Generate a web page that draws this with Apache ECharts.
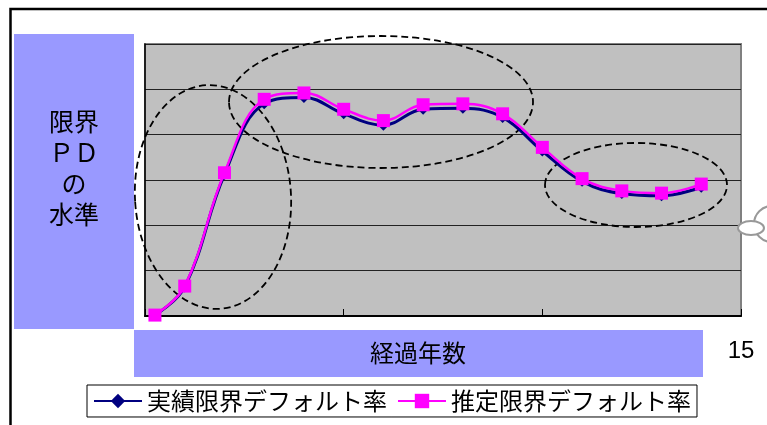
<!DOCTYPE html>
<html>
<head>
<meta charset="utf-8">
<script src="https://cdn.jsdelivr.net/npm/echarts@6/dist/echarts.min.js"></script>
<style>
html,body{margin:0;padding:0;background:#fff;}
#c{width:767px;height:425px;}
</style>
</head>
<body>
<div id="c"></div>
<script>
// Data
var years = [0.25, 1, 2, 3, 4, 5, 6, 7, 8, 9, 10, 11, 12, 13, 14];
var actualPD = [0.02, 0.64, 3.12, 4.68, 4.82, 4.46, 4.21, 4.56, 4.58, 4.38, 3.64, 2.97, 2.70, 2.65, 2.84];
var estimatedPD = [0.02, 0.66, 3.16, 4.78, 4.92, 4.56, 4.31, 4.66, 4.68, 4.46, 3.72, 3.03, 2.76, 2.71, 2.91];
var seriesNames = ['実績限界デフォルト率', '推定限界デフォルト率'];
var xTicks = [0, 5, 10, 15];
var xTitle = '経過年数';
var yTitle = '限界\nＰＤ\nの\n水準';

function pairs(xs, ys) { return xs.map(function (x, i) { return [x, ys[i]]; }); }

var jp = '"Noto Sans CJK JP", sans-serif';
var dashed = {fill: 'none', stroke: '#000', lineWidth: 1.8, lineDash: [7, 4]};
var chart = echarts.init(document.getElementById('c'), null, {renderer: 'canvas'});
chart.setOption({
  animation: false,
  backgroundColor: '#fff',
  grid: {
    left: 145, right: 26, top: 44, bottom: 109,
    show: true, backgroundColor: '#C0C0C0', borderColor: '#808080', borderWidth: 2
  },
  xAxis: {
    type: 'value', min: xTicks[0], max: xTicks[xTicks.length - 1], interval: 5,
    axisLine: {show: true, lineStyle: {color: '#000', width: 2}},
    axisTick: {show: true, inside: true, length: 7, lineStyle: {color: '#000', width: 1}},
    splitLine: {show: false},
    axisLabel: {
      margin: 23, color: '#000', fontSize: 24, fontFamily: '"Liberation Sans", Arial, sans-serif',
      formatter: function (v) { return v === xTicks[xTicks.length - 1] ? String(v) : ''; }
    }
  },
  yAxis: {
    type: 'value', min: 0, max: 6, interval: 1,
    axisLine: {show: true, lineStyle: {color: '#000', width: 1.5}},
    axisTick: {show: false},
    axisLabel: {show: false},
    splitLine: {show: true, lineStyle: {color: '#222', width: 1}}
  },
  legend: {
    data: seriesNames,
    left: 87, top: 385,
    backgroundColor: '#fff',
    borderColor: '#000', borderWidth: 1,
    padding: [4, 6, 4, 6],
    itemGap: 10, itemWidth: 48, itemHeight: 18,
    textStyle: {color: '#000', fontSize: 24, fontFamily: jp}
  },
  graphic: [
    {type: 'rect', z: 0, shape: {x: 10.5, y: 9, width: 800, height: 500},
      style: {fill: 'none', stroke: '#000', lineWidth: 2.5}},
    {type: 'rect', z: 1, shape: {x: 14, y: 34, width: 120, height: 295}, style: {fill: '#9999FF'}},
    {type: 'text', z: 2, x: 74, y: 168,
      style: {text: yTitle, fill: '#000', font: '25px ' + jp, align: 'center', verticalAlign: 'middle', lineHeight: 31}},
    {type: 'rect', z: 1, shape: {x: 134, y: 330, width: 569, height: 47}, style: {fill: '#9999FF'}},
    {type: 'text', z: 2, x: 418, y: 353,
      style: {text: xTitle, fill: '#000', font: '24px ' + jp, align: 'center', verticalAlign: 'middle'}},
    {type: 'ellipse', z: 1, x: 213, y: 197, rotation: 0.06, shape: {cx: 0, cy: 0, rx: 78, ry: 112}, style: dashed},
    {type: 'ellipse', z: 1, shape: {cx: 381, cy: 102, rx: 152, ry: 66}, style: dashed},
    {type: 'ellipse', z: 1, shape: {cx: 636, cy: 185, rx: 91, ry: 42}, style: dashed},
    {type: 'circle', z: 3, shape: {cx: 772, cy: 224, r: 18},
      style: {fill: '#fff', stroke: '#999', lineWidth: 2}},
    {type: 'ellipse', z: 4, shape: {cx: 751, cy: 228, rx: 13, ry: 7},
      style: {fill: '#fff', stroke: '#999', lineWidth: 2}}
  ],
  series: [
    {
      name: seriesNames[0], type: 'line', data: pairs(years, actualPD),
      smooth: 0.4, symbol: 'diamond', symbolSize: 11,
      color: '#000080', itemStyle: {color: '#000080'},
      lineStyle: {color: '#000080', width: 3}, z: 3
    },
    {
      name: seriesNames[1], type: 'line', data: pairs(years, estimatedPD),
      smooth: 0.4, symbol: 'rect', symbolSize: 13,
      color: '#FF00FF', itemStyle: {color: '#FF00FF'},
      lineStyle: {color: '#FF00FF', width: 2.5}, z: 4
    }
  ]
});
</script>
</body>
</html>
